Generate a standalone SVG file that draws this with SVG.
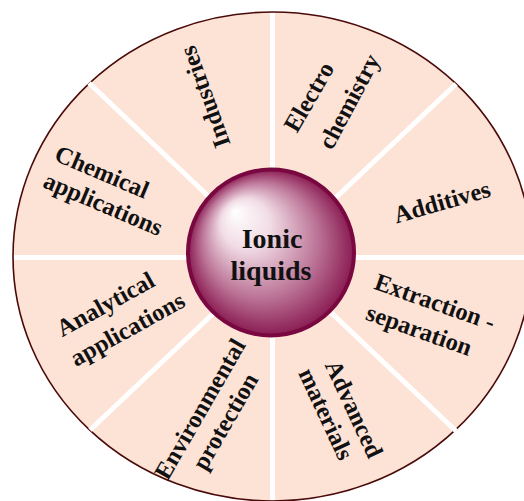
<svg xmlns="http://www.w3.org/2000/svg" width="524" height="501" viewBox="0 0 524 501">
  <defs>
    <radialGradient id="sphere" cx="50%" cy="50%" r="50%" fx="28%" fy="25%">
      <stop offset="0" stop-color="#ffffff"/>
      <stop offset="0.3" stop-color="#f1dce5"/>
      <stop offset="0.7" stop-color="#bb7396"/>
      <stop offset="1" stop-color="#8a1c53"/>
    </radialGradient>
    <style>
      .lbl { font-family: "Liberation Serif", "Times New Roman", serif; font-weight: bold; font-size: 24.5px; fill: #111; text-anchor: middle; }
      .core { font-family: "Liberation Serif", "Times New Roman", serif; font-weight: bold; font-size: 28px; fill: #111; text-anchor: middle; }
      .sep { stroke: #ffffff; stroke-width: 5; fill: none; }
    </style>
  </defs>
  <rect width="524" height="501" fill="#ffffff"/>
  <g id="wheel">
    <ellipse cx="272.5" cy="256.5" rx="259.5" ry="244.5" fill="#fde2d6" stroke="#4a0a0a" stroke-width="1.6"/>
  </g>
  <g id="connectors">
    <line class="sep" x1="272.5" y1="13" x2="272.5" y2="500"/>
    <line class="sep" x1="14" y1="257.5" x2="524" y2="257.5"/>
    <line class="sep" x1="89" y1="83" x2="456" y2="431"/>
    <line class="sep" x1="456" y1="84" x2="90" y2="430"/>
  </g>
  <g id="center">
    <circle cx="271" cy="252.5" r="83" fill="url(#sphere)" stroke="#7a0840" stroke-width="4"/>
    <text class="core" x="272" y="248">Ionic</text>
    <text class="core" x="271" y="280">liquids</text>
  </g>
  <g id="industries">
    <text class="lbl" transform="translate(205,97) rotate(-110)" dy="0.33em">Industries</text>
  </g>
  <g id="electrochemistry">
    <text class="lbl" transform="translate(309,97) rotate(-60)" dy="0.33em">Electro</text>
    <text class="lbl" transform="translate(352,103) rotate(-62)" dy="0.2em">chemistry</text>
  </g>
  <g id="additives">
    <text class="lbl" transform="translate(442,202) rotate(-16)" dy="0.33em">Additives</text>
  </g>
  <g id="extraction">
    <text class="lbl" transform="translate(435,302) rotate(19.5)" dy="0.33em">Extraction -</text>
    <text class="lbl" transform="translate(418,333) rotate(19.5)" dy="0.2em">separation</text>
  </g>
  <g id="advanced">
    <text class="lbl" transform="translate(354,409) rotate(65)" dy="0.33em">Advanced</text>
    <text class="lbl" transform="translate(326,414) rotate(65)" dy="0.33em">materials</text>
  </g>
  <g id="environmental">
    <text class="lbl" transform="translate(200,409) rotate(-60)" dy="0.33em">Environmental</text>
    <text class="lbl" transform="translate(228,423) rotate(-60)" dy="0.2em">protection</text>
  </g>
  <g id="analytical">
    <text class="lbl" transform="translate(107,307) rotate(-29)" dy="0.2em">Analytical</text>
    <text class="lbl" transform="translate(129,332) rotate(-29)" dy="0.2em">applications</text>
  </g>
  <g id="chemical">
    <text class="lbl" transform="translate(102,172) rotate(23)" dy="0.33em">Chemical</text>
    <text class="lbl" transform="translate(102,207) rotate(23)" dy="0.2em">applications</text>
  </g>
</svg>
